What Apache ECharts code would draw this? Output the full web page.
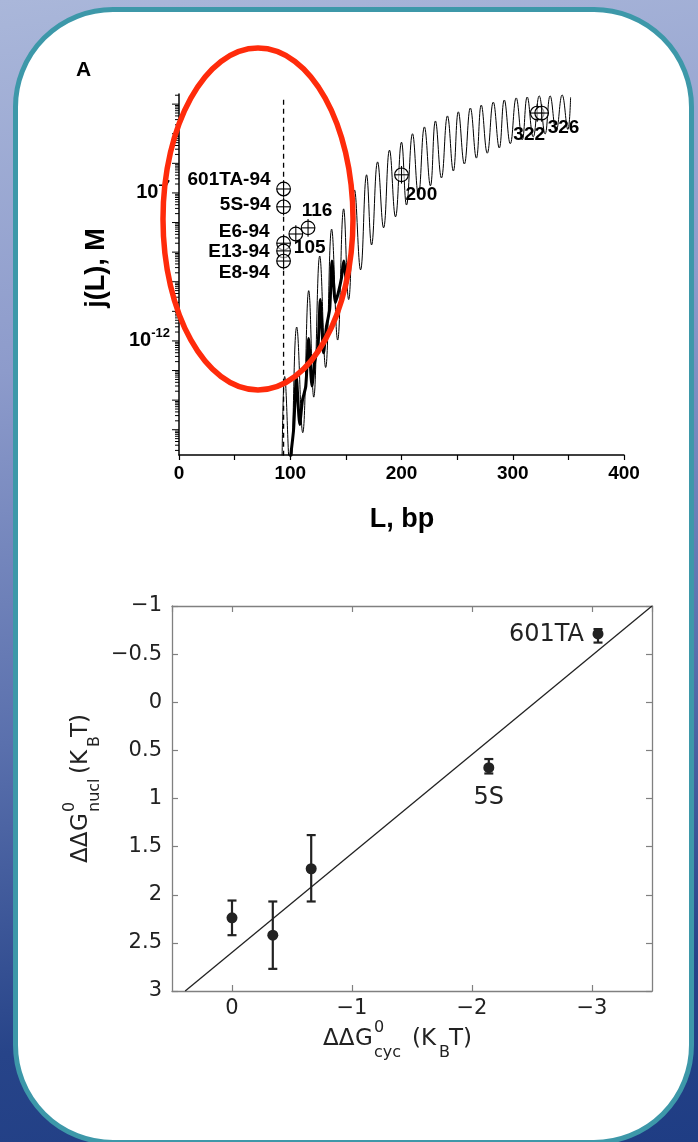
<!DOCTYPE html>
<html><head><meta charset="utf-8">
<script src="https://cdn.jsdelivr.net/npm/echarts@6/dist/echarts.min.js"></script>
<style>
html,body{margin:0;padding:0;width:698px;height:1142px;overflow:hidden;}
body{background:linear-gradient(172deg,#aab7da 0%,#8d9bcb 30%,#5a70ad 60%,#274489 85%,#1f3d84 100%);position:relative;}
#panel{position:absolute;left:13px;top:7px;width:671px;height:1128px;border:5px solid #3d98a9;border-radius:100px;background:#fff;}
#chart{position:absolute;left:0;top:0;width:698px;height:1142px;}
</style></head>
<body>
<div id="panel"></div>
<div id="chart"></div>
<script>
// ---------- Panel A data: j(L) vs L ----------
const curveL = [92.5, 95, 100, 105.8, 111.2, 116.6, 121.1, 126.5, 131.8, 137.2, 142.6, 148, 152.5, 157.8, 163.2, 168.6, 173.1, 178.5, 183.9, 189.2, 194.6, 200, 204.5, 209.9, 215.2, 220.6, 226, 230.5, 235.9, 241.3, 246.6, 251.1, 256.5, 261.9, 267.3, 271.7, 277.1, 282.5, 287.9, 292.4, 297.8, 303.1, 308.5, 313, 318.4, 323.8, 329.1, 333.6, 339, 344.4, 349.5, 352];
const curveJ = [3.2e-17, 6.3e-14, 3.2e-17, 2.95e-12, 7.9e-16, 5.0e-11, 1.26e-14, 7.4e-10, 1.26e-13, 6.0e-9, 1.07e-12, 2.9e-8, 2.5e-11, 1.26e-7, 2.5e-10, 4.1e-7, 1.74e-9, 1.12e-6, 6.6e-9, 2.8e-6, 1.55e-8, 5.2e-6, 3.9e-8, 1.0e-5, 8.5e-8, 1.7e-5, 1.74e-7, 2.7e-5, 3.2e-7, 4.0e-5, 5.5e-7, 5.5e-5, 9.5e-7, 7.4e-5, 1.5e-6, 9.3e-5, 2.2e-6, 1.17e-4, 3.3e-6, 1.38e-4, 4.6e-6, 1.62e-4, 6.2e-6, 1.74e-4, 7.8e-6, 1.9e-4, 9.8e-6, 1.9e-4, 1.23e-5, 2.04e-4, 1.4e-5, 1.7e-4];
const boldL = [100, 103, 105.5, 108.5, 111, 114, 116.5, 119.5, 122, 125, 127, 130, 132.5, 135.5, 137.5, 140.5, 143, 146, 148, 151, 153.5];
const boldJ = [1e-16, 1e-15, 6e-14, 1.5e-15, 1e-14, 3e-14, 1.2e-12, 3e-14, 2e-13, 7e-13, 2.5e-11, 4e-13, 3e-12, 1.2e-11, 5e-10, 2e-11, 4e-11, 1.3e-10, 5e-10, 8e-11, 4e-10];
const dashL = [94, 94];
const dashJ = [1.4e-4, 1e-17];
const markerL = [94, 94, 94, 94, 94, 105, 116, 200, 322, 326];
const markerJ = [1.36e-7, 3.4e-8, 2.0e-9, 1.1e-9, 5.0e-10, 4.1e-9, 6.6e-9, 4.1e-7, 5.0e-5, 5.0e-5];
const markerNames = ['601TA-94', '5S-94', 'E6-94', 'E13-94', 'E8-94', '105', '116', '200', '322', '326'];
const topXTickLabels = [0, 100, 200, 300, 400];
const topYLabelExponents = [-7, -12];

// ---------- Panel B data ----------
const cycX = [0, -0.34, -0.66, -2.14, -3.05];
const nuclY = [2.24, 2.42, 1.73, 0.68, -0.71];
const nuclErrTop = [2.06, 2.07, 1.38, 0.59, -0.76];
const nuclErrBottom = [2.42, 2.77, 2.07, 0.74, -0.62];
const pointNames = ['', '', '', '5S', '601TA'];
const fitX = [0.39, -3.5];
const fitY = [3, -1];

// ---------- styles (not data) ----------
const markerLabelStyle = [
  {dx: -13, dy: -9, align: 'right'},
  {dx: -13, dy: -2, align: 'right'},
  {dx: -14, dy: -11, align: 'right'},
  {dx: -14, dy: 1, align: 'right'},
  {dx: -14, dy: 12, align: 'right'},
  {dx: -2, dy: 14, align: 'left'},
  {dx: 9, dy: -17, align: 'center'},
  {dx: 4, dy: 20, align: 'left'},
  {dx: -8, dy: 22, align: 'center'},
  {dx: 6, dy: 15, align: 'left'}
];
const pointLabelStyle = [null, null, null, {offset: [0, 30], align: 'center'}, {offset: [-14, 1], align: 'right'}];

const YMIN = 1.4e-16, YMAX = 2.2e-4;
const boldFont = 'Liberation Sans, Arial, sans-serif';
const lightFont = 'DejaVu Sans, sans-serif';

const measureCtx = document.createElement('canvas').getContext('2d');
function textWidth(t, font) { measureCtx.font = font; return measureCtx.measureText(t).width; }

const chart = echarts.init(document.getElementById('chart'), null, {renderer: 'canvas'});

function makeTitle(x, y, rotation, sub) {
  const main = 23, small = 16;
  const p = [
    {t: 'ΔΔ', x: 0, y: 0, s: main},
    {t: 'G', x: 32, y: 0, s: main},
    {t: '0', x: 51, y: -11, s: small},
    {t: sub, x: 51, y: 14, s: small},
    {t: '(K', x: 89, y: 0, s: main},
    {t: 'B', x: 116, y: 14, s: small},
    {t: 'T)', x: 126, y: 0, s: main}
  ];
  return {
    type: 'group', x: x, y: y, rotation: rotation,
    children: p.map(q => ({
      type: 'text', x: q.x, y: q.y,
      style: {text: q.t, font: q.s + 'px ' + lightFont, fill: '#222', textAlign: 'left', textVerticalAlign: 'middle'}
    }))
  };
}

const grayAxis = {onZero: false, lineStyle: {color: '#808080', width: 1.3}};
const grayTick = {inside: true, length: 6, lineStyle: {color: '#808080', width: 1.2}};

const option = {
  animation: false,
  grid: [
    {left: 179, top: 94, width: 445, height: 361},
    {left: 172, top: 606, width: 480, height: 385}
  ],
  xAxis: [
    {gridIndex: 0, type: 'value', min: 0, max: 400, interval: 50,
     axisLine: {onZero: false, lineStyle: {color: '#000', width: 1.5}},
     axisTick: {length: 5, lineStyle: {color: '#000', width: 1.2}},
     axisLabel: {color: '#000', fontWeight: 'bold', fontSize: 19, fontFamily: boldFont, margin: 9,
       formatter: v => (topXTickLabels.indexOf(v) >= 0 ? String(v) : '')},
     splitLine: {show: false}},
    {gridIndex: 1, type: 'value', min: -3.5, max: 0.5, inverse: true, splitNumber: 4, position: 'bottom',
     axisLine: grayAxis, axisTick: grayTick,
     axisLabel: {color: '#222', fontSize: 21, fontFamily: lightFont, margin: 7, showMinLabel: false, showMaxLabel: false,
       formatter: v => String(v).replace('-', '\u2212')},
     splitLine: {show: false}},
    {gridIndex: 1, type: 'value', min: -3.5, max: 0.5, inverse: true, splitNumber: 4, position: 'top',
     axisLine: grayAxis, axisTick: grayTick,
     axisLabel: {show: false}, splitLine: {show: false}}
  ],
  yAxis: [
    {gridIndex: 0, type: 'log', logBase: 10, min: YMIN, max: YMAX,
     axisLine: {show: true, onZero: false, lineStyle: {color: '#000', width: 1.5}},
     axisTick: {show: false}, axisLabel: {show: false}, splitLine: {show: false}, minorTick: {show: false}},
    {gridIndex: 1, type: 'value', min: -1, max: 3, interval: 0.5, inverse: true, position: 'left',
     axisLine: grayAxis, axisTick: grayTick,
     axisLabel: {color: '#222', fontSize: 21, fontFamily: lightFont, margin: 10,
       formatter: v => String(v).replace('-', '\u2212')},
     splitLine: {show: false}},
    {gridIndex: 1, type: 'value', min: -1, max: 3, interval: 0.5, inverse: true, position: 'right',
     axisLine: grayAxis, axisTick: grayTick,
     axisLabel: {show: false}, splitLine: {show: false}}
  ],
  series: [
    {type: 'custom', xAxisIndex: 0, yAxisIndex: 0, silent: true, data: [[0, 1e-7]],
     renderItem: function (params, api) {
       const x0 = api.coord([0, 1e-7])[0];
       const ch = [];
       for (let n = -17; n <= -3; n++) {
         for (let k = 1; k <= 9; k++) {
           const v = k * Math.pow(10, n);
           if (v < YMIN || v > YMAX) continue;
           const y = api.coord([0, v])[1];
           const len = k === 1 ? 7 : 4;
           ch.push({type: 'line', shape: {x1: x0 - len, y1: y, x2: x0, y2: y}, style: {stroke: '#000', lineWidth: 1}});
         }
       }
       topYLabelExponents.forEach(e => {
         const y = api.coord([0, Math.pow(10, e)])[1];
         const supTxt = '-' + Math.abs(e);
         const supFont = 'bold 13px ' + boldFont;
         const sw = textWidth(supTxt, supFont);
         const right = x0 - 9;
         ch.push({type: 'text', x: right - sw, y: y, style: {text: '10', font: 'bold 20px ' + boldFont, fill: '#000', textAlign: 'right', textVerticalAlign: 'middle'}});
         ch.push({type: 'text', x: right - sw, y: y - 8, style: {text: supTxt, font: supFont, fill: '#000', textAlign: 'left', textVerticalAlign: 'middle'}});
       });
       return {type: 'group', children: ch};
     }},
    {type: 'line', xAxisIndex: 0, yAxisIndex: 0, data: dashL.map((l, i) => [l, dashJ[i]]), symbol: 'none',
     lineStyle: {color: '#000', width: 1.3, type: [5, 4]}, silent: true},
    {type: 'line', xAxisIndex: 0, yAxisIndex: 0, data: boldL.map((l, i) => [l, boldJ[i]]), symbol: 'none', smooth: 0.2,
     lineStyle: {color: '#000', width: 3}, silent: true},
    {type: 'line', xAxisIndex: 0, yAxisIndex: 0, data: curveL.map((l, i) => [l, curveJ[i]]), symbol: 'none', smooth: 0.45,
     lineStyle: {color: '#000', width: 1}, silent: true},
    {type: 'custom', xAxisIndex: 0, yAxisIndex: 0, silent: true, z: 5,
     data: markerL.map((l, i) => [l, markerJ[i]]),
     renderItem: function (params, api) {
       const p = api.coord([api.value(0), api.value(1)]);
       const st = markerLabelStyle[params.dataIndex];
       const r = 6.8;
       return {type: 'group', children: [
         {type: 'circle', shape: {cx: p[0], cy: p[1], r: r}, style: {fill: 'rgba(255,255,255,0.6)', stroke: '#000', lineWidth: 1.2}},
         {type: 'line', shape: {x1: p[0] - r, y1: p[1], x2: p[0] + r, y2: p[1]}, style: {stroke: '#000', lineWidth: 1.1}},
         {type: 'line', shape: {x1: p[0], y1: p[1] - r - 2, x2: p[0], y2: p[1] + r + 2}, style: {stroke: '#000', lineWidth: 1.1}},
         {type: 'text', x: p[0] + st.dx, y: p[1] + st.dy, style: {text: markerNames[params.dataIndex], font: 'bold 19px ' + boldFont, fill: '#000', textAlign: st.align, textVerticalAlign: 'middle'}}
       ]};
     }},
    {type: 'line', xAxisIndex: 1, yAxisIndex: 1, data: fitX.map((x, i) => [x, fitY[i]]), symbol: 'none',
     lineStyle: {color: '#222', width: 1.3}, silent: true},
    {type: 'custom', xAxisIndex: 1, yAxisIndex: 1, silent: true,
     data: cycX.map((x, i) => [x, nuclErrTop[i], nuclErrBottom[i]]),
     renderItem: function (params, api) {
       const a = api.coord([api.value(0), api.value(1)]);
       const b = api.coord([api.value(0), api.value(2)]);
       const w = 4.5;
       const s = {stroke: '#222', lineWidth: 2.2};
       return {type: 'group', children: [
         {type: 'line', shape: {x1: a[0], y1: a[1], x2: b[0], y2: b[1]}, style: s},
         {type: 'line', shape: {x1: a[0] - w, y1: a[1], x2: a[0] + w, y2: a[1]}, style: s},
         {type: 'line', shape: {x1: b[0] - w, y1: b[1], x2: b[0] + w, y2: b[1]}, style: s}
       ]};
     }},
    {type: 'scatter', xAxisIndex: 1, yAxisIndex: 1, symbolSize: 11, itemStyle: {color: '#222', opacity: 1}, silent: true, z: 4,
     data: cycX.map((x, i) => {
       const item = {value: [x, nuclY[i]]};
       if (pointNames[i]) {
         const ls = pointLabelStyle[i];
         item.label = {show: true, formatter: pointNames[i], position: 'inside', align: ls.align, verticalAlign: 'middle',
           offset: ls.offset, color: '#222', opacity: 1, fontSize: 24, fontFamily: lightFont};
       }
       return item;
     })}
  ],
  graphic: [
    {type: 'text', x: 76, y: 70, style: {text: 'A', font: 'bold 21px ' + boldFont, fill: '#000', textVerticalAlign: 'middle'}},
    {type: 'text', x: 402, y: 520, style: {text: 'L, bp', font: 'bold 27px ' + boldFont, fill: '#000', textAlign: 'center', textVerticalAlign: 'middle'}},
    {type: 'text', x: 97, y: 268, rotation: Math.PI / 2, style: {text: 'j(L), M', font: 'bold 27px ' + boldFont, fill: '#000', textAlign: 'center', textVerticalAlign: 'middle'}},
    {type: 'ellipse', shape: {cx: 258, cy: 219, rx: 95, ry: 171}, style: {fill: 'none', stroke: '#ff2b0b', lineWidth: 5.5}, z: 100},
    makeTitle(323, 1039, 0, 'cyc'),
    makeTitle(81, 863, Math.PI / 2, 'nucl')
  ]
};
chart.setOption(option);
</script>
</body></html>
